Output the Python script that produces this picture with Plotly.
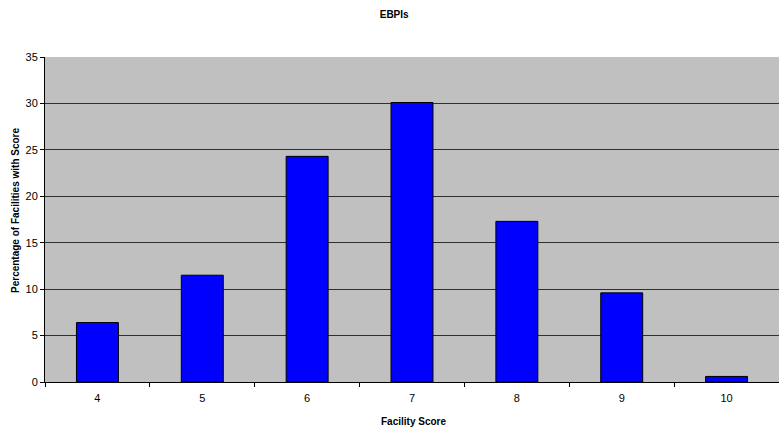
import plotly.graph_objects as go

# Facility scores and share of facilities at each score
scores = ["4", "5", "6", "7", "8", "9", "10"]
percentages = [6.4, 11.5, 24.3, 30.1, 17.3, 9.6, 0.6]
y_ticks = [0, 5, 10, 15, 20, 25, 30, 35]

fig = go.Figure(
    go.Bar(
        x=scores,
        y=percentages,
        width=0.4,
        marker=dict(color="#0000FF", line=dict(color="#000000", width=1)),
    )
)

font_family = "Liberation Sans, Arial, sans-serif"

fig.update_layout(
    width=779,
    height=434,
    margin=dict(l=45, r=0, t=57, b=52),
    paper_bgcolor="white",
    plot_bgcolor="#C0C0C0",
    showlegend=False,
    title=dict(
        text="<b>EBPIs</b>",
        x=0.506,
        xanchor="center",
        y=0.967,
        yanchor="middle",
        font=dict(family=font_family, size=10, color="#000000"),
    ),
    font=dict(family=font_family, size=11, color="#000000"),
    annotations=[
        # axis titles placed as annotations for fine positioning
        dict(
            text="<b>Facility Score</b>",
            xref="paper", yref="paper",
            x=0.502, y=-0.123,
            xanchor="center", yanchor="middle",
            showarrow=False,
            font=dict(family=font_family, size=10, color="#000000"),
        ),
        dict(
            text="<b>Percentage of Facilities with Score</b>",
            xref="paper", yref="paper",
            x=-0.041, y=0.529,
            xanchor="center", yanchor="middle",
            textangle=-90,
            showarrow=False,
            font=dict(family=font_family, size=10, color="#000000"),
        ),
    ],
)

fig.update_xaxes(
    type="category",
    tickson="boundaries",
    ticks="outside",
    ticklen=4,
    tickcolor="#000000",
    showline=True,
    linecolor="#000000",
    linewidth=1,
    showgrid=False,
    tickfont=dict(size=11),
    ticklabelstandoff=6,
)

fig.update_yaxes(
    range=[0, 35],
    tickvals=y_ticks,
    ticks="outside",
    ticklen=4,
    tickcolor="#000000",
    showline=True,
    linecolor="#000000",
    linewidth=1,
    showgrid=True,
    gridcolor="#303030",
    gridwidth=1,
    zeroline=False,
    tickfont=dict(size=11),
)

fig.write_html("out.html")
